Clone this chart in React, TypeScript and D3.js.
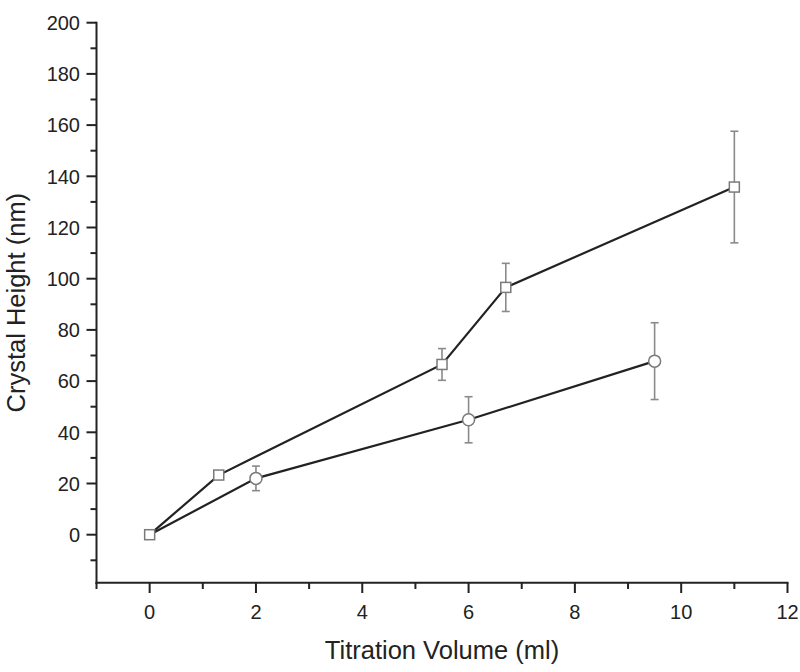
import React from "react";
import * as d3 from "d3";

const squareX = [0, 1.3, 5.5, 6.7, 11];
const squareY = [0, 23.3, 66.5, 96.6, 135.8];
const squareErr = [0, 1.2, 6.2, 9.4, 21.8];

const circleX = [0, 2, 6, 9.5];
const circleY = [0, 22, 44.9, 67.8];
const circleErr = [0, 4.8, 9, 15];

const xTicks = [0, 2, 4, 6, 8, 10, 12];
const yTicks = [0, 20, 40, 60, 80, 100, 120, 140, 160, 180, 200];
const xMinor = [-1, 1, 3, 5, 7, 9, 11];
const yMinor = [-10, 10, 30, 50, 70, 90, 110, 130, 150, 170, 190];

const W = 800;
const H = 672;

export default function App() {
  const x = d3.scaleLinear().domain([-1, 12]).range([96.5, 787.5]);
  const y = d3.scaleLinear().domain([-18.75, 200]).range([582.7, 22.7]);

  const line = d3
    .line<[number, number]>()
    .x((d) => x(d[0]))
    .y((d) => y(d[1]));

  const sq = squareX.map((v, i) => [v, squareY[i]] as [number, number]);
  const ci = circleX.map((v, i) => [v, circleY[i]] as [number, number]);

  const lineColor = "#222";
  const markColor = "#7a7a7a";
  const errColor = "#8a8a8a";
  const font = "'Liberation Sans', Arial, sans-serif";

  const errBar = (cx: number, cy: number, e: number, k: string) => {
    if (e <= 0) return null;
    const px = x(cx);
    const top = y(cy + e);
    const bot = y(cy - e);
    return (
      <g key={k} stroke={errColor} strokeWidth={1.6}>
        <line x1={px} x2={px} y1={top} y2={bot} />
        <line x1={px - 4} x2={px + 4} y1={top} y2={top} />
        <line x1={px - 4} x2={px + 4} y1={bot} y2={bot} />
      </g>
    );
  };

  return (
    <svg
      width={W}
      height={H}
      style={{ position: "absolute", left: 0, top: 0, background: "#fff" }}
      fontFamily={font}
    >
      <rect width={W} height={H} fill="#fff" />
      {squareX.map((v, i) => errBar(v, squareY[i], squareErr[i], "se" + i))}
      {circleX.map((v, i) => errBar(v, circleY[i], circleErr[i], "ce" + i))}
      <path d={line(sq) || ""} fill="none" stroke={lineColor} strokeWidth={2.2} />
      <path d={line(ci) || ""} fill="none" stroke={lineColor} strokeWidth={2.2} />
      {sq.map((d, i) => (
        <rect
          key={"s" + i}
          x={x(d[0]) - 5}
          y={y(d[1]) - 5}
          width={10}
          height={10}
          fill="#fff"
          stroke={markColor}
          strokeWidth={1.5}
        />
      ))}
      {ci.map((d, i) =>
        i === 0 ? null : (
          <circle
            key={"c" + i}
            cx={x(d[0])}
            cy={y(d[1])}
            r={6}
            fill="#fff"
            stroke={markColor}
            strokeWidth={1.5}
          />
        )
      )}
      <g stroke="#222" strokeWidth={2}>
        <line x1={96.5} x2={96.5} y1={y(200) - 1} y2={y(-18.75) + 1} />
        <line x1={95.5} x2={x(12) + 1} y1={582.7} y2={582.7} />
        {yTicks.map((t) => (
          <line key={"yt" + t} x1={86.5} x2={96.5} y1={y(t)} y2={y(t)} />
        ))}
        {yMinor.map((t) => (
          <line key={"ym" + t} x1={90.5} x2={96.5} y1={y(t)} y2={y(t)} />
        ))}
        {xTicks.map((t) => (
          <line key={"xt" + t} x1={x(t)} x2={x(t)} y1={582.7} y2={593} />
        ))}
        {xMinor.map((t) => (
          <line key={"xm" + t} x1={x(t)} x2={x(t)} y1={582.7} y2={589} />
        ))}
      </g>
      <g fill="#222" fontSize={20}>
        {yTicks.map((t) => (
          <text key={"yl" + t} x={80} y={y(t)} dy="0.36em" textAnchor="end">
            {t}
          </text>
        ))}
        {xTicks.map((t) => (
          <text key={"xl" + t} x={x(t)} y={619} textAnchor="middle">
            {t}
          </text>
        ))}
      </g>
      <text x={442} y={659} textAnchor="middle" fontSize={25.5} fill="#222">
        Titration Volume (ml)
      </text>
      <text
        transform={`translate(25,${(22.7 + 582.7) / 2}) rotate(-90)`}
        textAnchor="middle"
        fontSize={25.5}
        fill="#222"
      >
        Crystal Height (nm)
      </text>
    </svg>
  );
}
